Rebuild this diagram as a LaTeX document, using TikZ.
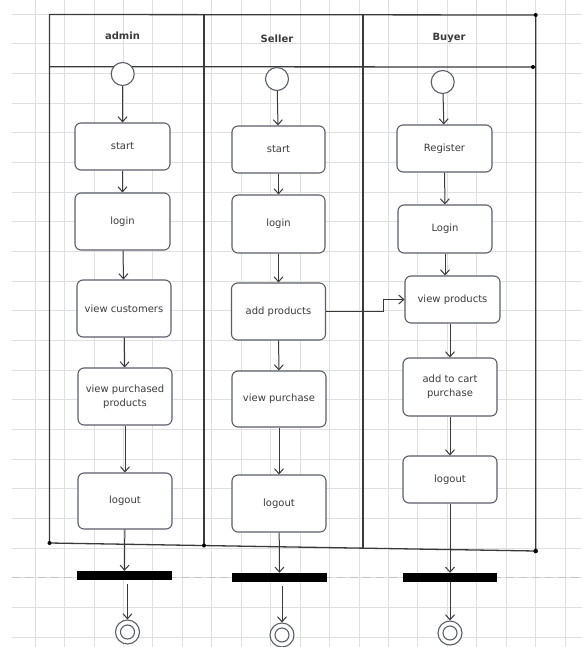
\documentclass[tikz,border=0pt]{standalone}
\usepackage{fontspec}
\setmainfont{DejaVu Sans}
\usetikzlibrary{arrows.meta}
\definecolor{gridc}{HTML}{E0E0E0}
\definecolor{dashc}{HTML}{C4C4C4}
\definecolor{linec}{HTML}{3A3A3A}
\definecolor{boxc}{HTML}{5A5F6A}
\definecolor{txtc}{HTML}{3C3C3C}
\tikzset{
  gridline/.style={draw=gridc, line width=0.8pt},
  dashline/.style={draw=dashc, line width=1pt, dash pattern=on 8pt off 5pt},
  frameline/.style={draw=linec, line width=1.3pt},
  act/.style={draw=boxc, line width=1.1pt, rounded corners=6pt, fill=white,
    inner sep=0pt, align=center, text=txtc, font=\fontsize{10}{14}\selectfont},
  lanehead/.style={text=txtc, font=\fontsize{10}{12}\selectfont\bfseries},
  initc/.style={circle, draw=boxc, line width=1.1pt, fill=white, inner sep=0pt, minimum size=23pt},
  finalc/.style={circle, draw=boxc, line width=1.1pt, fill=white, inner sep=0pt, minimum size=24pt},
  finalin/.style={circle, draw=boxc, line width=1.1pt, inner sep=0pt, minimum size=14pt},
  syncbar/.style={rectangle, fill=black, inner sep=0pt, minimum width=95pt, minimum height=9pt},
  arr/.style={draw=linec, line width=1pt, -{Straight Barb[length=5pt,width=9pt]}},
}
\begin{document}
\begin{tikzpicture}[x=1pt,y=-1pt]
\useasboundingbox (0,0) rectangle (582,647);
\fill[white] (0,0) rectangle (582,647);
% grid
\foreach \i in {0,...,18} \draw[gridline] ({35+29.45*\i},0) -- ({35+29.45*\i},647);
\foreach \j in {0,...,21} \draw[gridline] (12,{14+29.67*\j}) -- (582,{14+29.67*\j});
\draw[dashline] (12,577) -- (582,577);
% frame
\coordinate (TL) at (49.5,14.5);
\coordinate (TR) at (535.7,15);
\coordinate (HL) at (49.5,66.7);
\coordinate (HR) at (533,67);
\coordinate (BL) at (49.5,543);
\coordinate (BR) at (535.7,551);
\coordinate (D1T) at (204,14.5);
\coordinate (D1B) at (204,545.5);
\coordinate (D2T) at (363,14.8);
\coordinate (D2B) at (363,548.5);
\draw[frameline] (TL) -- (TR) -- (BR) -- (BL) -- cycle;
\draw[frameline] (HL) -- (HR);
\draw[frameline] (D1T) -- (D1B);
\draw[frameline] (D2T) -- (D2B);
\fill[black] (TR) circle (2pt);
\fill[black] (HR) circle (2pt);
\fill[black] (BL) circle (2pt);
\fill[black] (D1B) circle (2pt);
\fill[black] (BR) circle (2.3pt);
% lane headers
\node[lanehead] (h1) at (122.5,36) {admin};
\node[lanehead] (h2) at (277,39) {Seller};
\node[lanehead] (h3) at (449,38) {Buyer};
% admin lane
\node[initc] (a0) at (122.7,74) {};
\node[act, minimum width=95pt, minimum height=47pt] (a1) at (122.5,146.5) {start};
\node[act, minimum width=95pt, minimum height=57pt] (a2) at (122.5,221.5) {login};
\node[act, minimum width=94pt, minimum height=57pt] (a3) at (124,308.5) {view customers};
\node[act, minimum width=94pt, minimum height=57pt] (a4) at (125,396.5) {view purchased\\products};
\node[act, minimum width=94pt, minimum height=56pt] (a5) at (125,501) {logout};
\node[syncbar] (ab) at (124.5,575.5) {};
\node[finalc] (af) at (127.5,632) {};
\node[finalin] (afi) at (af) {};
% seller lane
\node[initc] (s0) at (277,79) {};
\node[act, minimum width=93pt, minimum height=47pt] (s1) at (278.5,149.5) {start};
\node[act, minimum width=93pt, minimum height=58pt] (s2) at (278.5,224) {login};
\node[act, minimum width=94pt, minimum height=57pt] (s3) at (278.5,311.5) {add products};
\node[act, minimum width=94pt, minimum height=56pt] (s4) at (279,399) {view purchase};
\node[act, minimum width=94pt, minimum height=57pt] (s5) at (279,503.5) {logout};
\node[syncbar] (sb) at (279.5,577.5) {};
\node[finalc] (sf) at (282,635) {};
\node[finalin] (sfi) at (sf) {};
% buyer lane
\node[initc] (b0) at (442.7,82) {};
\node[act, minimum width=95pt, minimum height=47pt] (b1) at (444.5,148.5) {Register};
\node[act, minimum width=94pt, minimum height=48pt] (b2) at (445,229) {Login};
\node[act, minimum width=95pt, minimum height=47pt] (b3) at (452.5,299.5) {view products};
\node[act, minimum width=94pt, minimum height=58pt] (b4) at (450,387) {add to cart\\purchase};
\node[act, minimum width=94pt, minimum height=47pt] (b5) at (450,479.5) {logout};
\node[syncbar, minimum width=94pt] (bb) at (450,577.5) {};
\node[finalc] (bf) at (450,633) {};
\node[finalin] (bfi) at (bf) {};
% admin arrows
\draw[arr] (a0) -- (a1);
\draw[arr] (a1) -- (a2);
\draw[arr] (a2) -- (a3);
\draw[arr] (a3) -- (a4);
\draw[arr] (a4) -- (a5);
\draw[arr] (a5) -- (ab);
\draw[arr] ([yshift=-4pt]af.north |- ab.south) -- (af.north);
% seller arrows
\draw[arr] (s0) -- (s1);
\draw[arr] (s1) -- (s2);
\draw[arr] (s2) -- (s3);
\draw[arr] (s3) -- (s4);
\draw[arr] (s4) -- (s5);
\draw[arr] (s5) -- (sb);
\draw[arr] ([yshift=-4pt]sf.north |- sb.south) -- (sf.north);
% buyer arrows
\draw[arr] (b0) -- (b1);
\draw[arr] (b1) -- (b2);
\draw[arr] (b2.south) -- (b2.south |- b3.north);
\draw[arr] (b4.north |- b3.south) -- (b4.north);
\draw[arr] (b4) -- (b5);
\draw[arr] (b5) -- (bb);
\draw[arr] (bb) -- (bf);
% cross-lane connector
\draw[arr] (s3.east) -- ++(57,0) |- (b3.west);
\end{tikzpicture}
\end{document}
